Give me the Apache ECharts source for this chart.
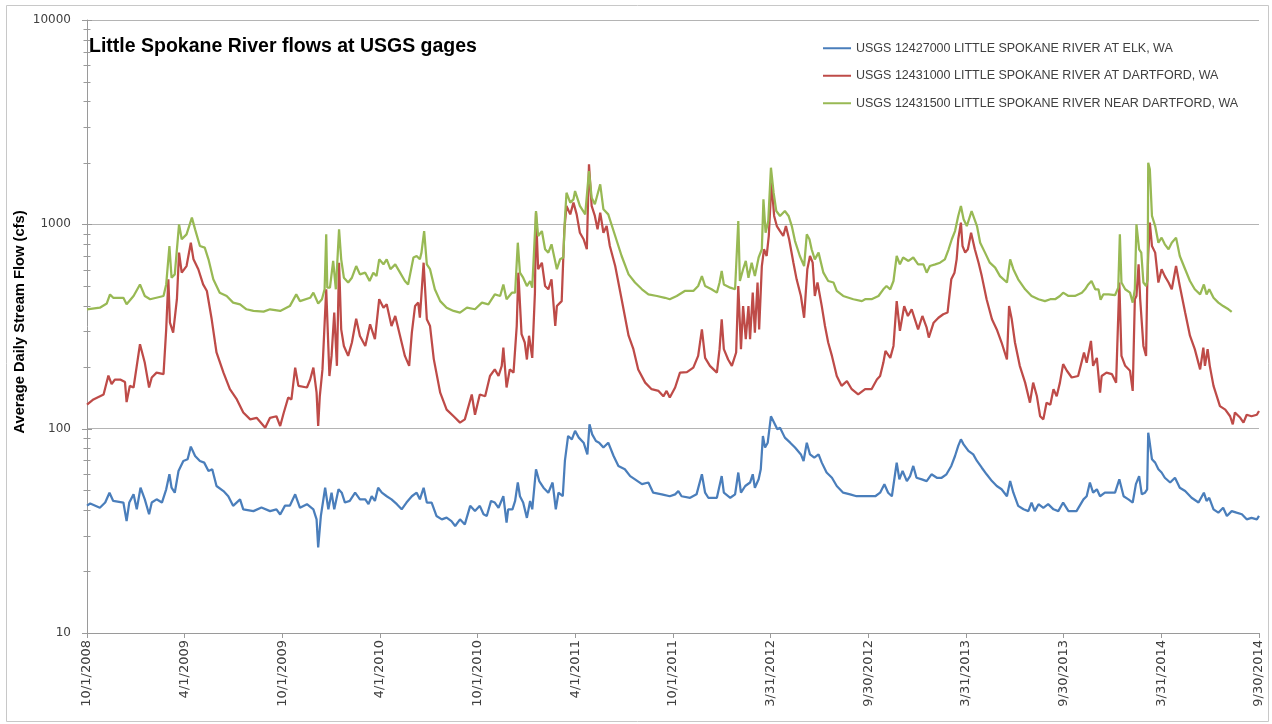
<!DOCTYPE html>
<html>
<head>
<meta charset="utf-8">
<title>Little Spokane River flows at USGS gages</title>
<script src="https://cdn.jsdelivr.net/npm/echarts@6/dist/echarts.min.js"></script>
<style>
  html, body { margin: 0; padding: 0; background: #ffffff; }
  #chart { width: 1272px; height: 724px; }
</style>
</head>
<body>
<div id="chart"></div>
<script>
// Gage names, in legend order
const seriesNames = [
  'USGS 12427000 LITTLE SPOKANE RIVER AT ELK, WA',
  'USGS 12431000 LITTLE SPOKANE RIVER AT DARTFORD, WA',
  'USGS 12431500 LITTLE SPOKANE RIVER NEAR DARTFORD, WA'
];
const yAxisTitle = 'Average Daily Stream Flow (cfs)';

// Date axis: ticks every half year (182.5 days) from 10/1/2008
const dateTicks = [
  '10/1/2008', '4/1/2009', '10/1/2009', '4/1/2010', '10/1/2010', '4/1/2011',
  '10/1/2011', '3/31/2012', '9/30/2012', '3/31/2013', '9/30/2013', '3/31/2014', '9/30/2014'
];
const tickSpacingDays = 182.5;
const lastDay = 2190;

// [day of record counted from 10/1/2008, average daily flow in cfs]
const elkFlow = [
  [0,42],[6,43],[24,41],[34,43.5],[42,48.6],[49,44.3],[68,43.5],[74,35.3],[79,43.5],[87,47.7],[93,40.3],[100,51.4],[108,45.1],[116,38.1],[121,43.5],[130,45.1],[140,43.5],[148,50.5],[154,59.8],[158,51.4],[164,48.6],[171,62.1],[180,69.5],[188,70.8],[194,81.7],[202,73.5],[211,69.5],[219,68.2],[227,62.1],[234,63.3],[242,52.4],[255,49.5],[264,46.7],[273,41.9],[286,45.1],[292,40.3],[311,39.5],[326,41.1],[342,39.5],[354,40.3],
  [361,38],[370,42],[379,42],[389,47.7],[398,41],[411,42.7],[423,40.3],[429,36],[432,26.2],[437,37.4],[445,51.4],[451,40.3],[457,48.6],[462,40.3],[470,50.5],[476,48.6],[482,43.5],[491,44.3],[501,48.6],[510,45.1],[520,45.1],[526,42.7],[532,46.7],[538,44.3],[544,51.4],[551,48.6],[560,46.7],[569,45.1],[579,42.7],[588,40.3],[597,43.5],[607,46.7],[616,48.6],[622,45.1],[629,51.4],[635,43.5],[644,43.5],[653,37.4],[663,36],[672,36.7],[681,35.3],[688,33.4],[697,36],[706,34],[716,41.9],
  [725,39.5],[734,41.9],[741,38.1],[747,37.4],[755,44.3],[762,43.5],[769,41],[778,46.7],[784,34.7],[787,40.3],[795,40.3],[800,44.3],[805,54.5],[809,46.7],[815,43.5],[822,36.6],[828,44.3],[832,40.3],[839,63.3],[845,55.4],[853,51.4],[862,48.6],[870,54.5],[876,40.3],[881,48.6],[889,46.7],[893,69.5],[899,92.1],[906,88.7],[912,97.5],[919,90.4],[928,85.4],[935,74.8],[939,105],[944,93.8],[951,87],[957,85.4],[965,80.8],[974,85.4],[984,73.5],[993,65.7],[1005,63.3],[1015,58.6],[1024,56.5],[1037,53.5],[1049,54.5],[1058,48.6],[1074,47.7],
  [1089,46.7],[1099,47.7],[1105,49.5],[1111,46.7],[1127,45.9],[1139,47.7],[1149,59.8],[1155,48.6],[1161,45.9],[1177,45.9],[1186,58.6],[1190,48.6],[1202,45.9],[1211,47.7],[1217,61],[1222,48.6],[1230,52.4],[1239,54.5],[1244,59.8],[1248,51.4],[1255,56.5],[1259,63.3],[1263,92.1],[1267,80.8],[1272,85.4],[1278,115],[1284,107],[1290,99.3],[1295,101],[1304,90.4],[1314,85.4],[1323,80.8],[1334,74.8],[1339,69.5],[1345,85.4],[1351,74.8],[1359,72.1],[1367,74.8],[1373,68.2],[1382,61],[1392,57.5],[1401,52.4],[1413,48.6],[1426,47.7],[1438,46.7],
  [1454,46.7],[1473,46.7],[1482,48.6],[1490,53.5],[1497,48.6],[1504,46.7],[1513,68.2],[1518,56.5],[1524,62.1],[1532,55.4],[1538,58.6],[1544,65.7],[1550,57.5],[1560,56.5],[1569,55.4],[1578,59.8],[1588,57.5],[1597,57.5],[1606,59.8],[1615,65.7],[1622,73.5],[1628,82.3],[1633,88.7],[1638,83.8],[1647,77.8],[1656,74.8],[1663,69.5],[1672,64.4],[1681,59.8],[1691,55.4],[1700,52.4],[1709,50.5],[1719,46.7],[1725,55.4],[1731,48.6],[1740,41.9],[1750,40.3],[1759,39.5],[1765,43.5],[1771,39.5],[1778,42.7],[1787,41],[1796,42.7],[1806,40.3],[1815,39.5],
  [1818,40.3],[1824,43.5],[1834,39.5],[1849,39.5],[1862,45.1],[1868,46.7],[1874,54.5],[1880,48.6],[1887,50.5],[1893,46.7],[1902,48.6],[1921,48.6],[1929,56.5],[1937,46.7],[1946,45.1],[1954,43.5],[1960,53.5],[1966,58.6],[1971,47.7],[1977,48.6],[1981,50.5],[1983,95.5],[1985,88.7],[1990,70.8],[1996,68.2],[2002,63.3],[2008,61],[2014,57.5],[2024,54.5],[2033,57.5],[2042,51.4],[2052,49.5],[2064,45.9],[2077,43.5],[2087,48.6],[2092,44.3],[2097,45.9],[2105,40.3],[2114,38.8],[2123,41],[2130,37.4],[2139,39.5],[2148,38.8],[2158,38.1],[2167,36],[2176,36.6],[2186,36],[2190,37.4]
];

const dartfordFlow = [
  [0,131],[12,139],[31,147],[40,182],[46,165],[52,174],[62,174],[71,169],[74,135],[80,162],[87,159],[93,203],[99,259],[108,210],[116,159],[121,178],[130,188],[143,185],[148,306],[152,538],[155,330],[161,295],[168,430],[172,727],[177,580],[186,625],[194,813],[199,674],[208,603],[217,508],[224,472],[233,343],[242,236],[255,188],[267,156],[280,139],[292,120],[305,111],[317,113],[333,101],[342,113],[354,115],
  [361,103],[367,118],[376,142],[382,139],[389,199],[395,162],[411,159],[417,174],[423,199],[429,150],[432,103],[435,144],[440,195],[447,481],[453,181],[457,227],[462,370],[467,203],[471,649],[475,306],[480,254],[488,227],[495,264],[503,345],[510,284],[520,254],[529,324],[538,274],[546,430],[554,391],[560,406],[569,318],[576,356],[585,284],[594,227],[602,203],[607,295],[613,398],[619,414],[622,349],[629,649],[635,343],[641,318],[648,219],[660,150],[672,124],[685,115],[697,107],[706,111],[719,147],
  [725,117],[734,147],[744,144],[753,181],[762,195],[769,181],[775,203],[778,249],[784,159],[790,195],[797,188],[803,318],[806,580],[812,290],[818,264],[822,218],[826,285],[832,222],[837,463],[839,1140],[843,603],[850,649],[856,499],[862,481],[868,538],[875,318],[878,398],[887,421],[892,945],[896,1230],[903,1119],[909,1277],[915,1119],[921,910],[928,845],[934,755],[938,1967],[943,1230],[949,1099],[954,945],[959,1140],[965,910],[971,981],[977,783],[987,625],[999,430],[1012,285],[1021,245],[1030,195],[1043,168],[1055,156],[1068,153],[1077,144],[1083,153],
  [1089,142],[1099,159],[1108,188],[1121,189],[1133,199],[1142,227],[1149,306],[1155,222],[1164,203],[1177,188],[1182,245],[1186,343],[1190,245],[1198,218],[1205,203],[1213,236],[1217,499],[1222,245],[1226,398],[1231,274],[1236,398],[1239,274],[1244,463],[1248,295],[1253,519],[1256,306],[1261,625],[1265,755],[1270,700],[1274,877],[1279,1600],[1284,1099],[1289,981],[1295,927],[1301,877],[1306,981],[1312,845],[1320,649],[1326,538],[1334,446],[1340,349],[1346,603],[1351,700],[1356,649],[1360,446],[1365,519],[1373,398],[1379,318],[1385,264],[1392,227],[1401,181],[1410,162],[1420,171],[1429,156],[1441,147],
  [1454,156],[1466,156],[1476,174],[1482,181],[1488,210],[1492,240],[1501,222],[1507,254],[1513,421],[1519,301],[1527,398],[1534,356],[1541,384],[1547,343],[1553,306],[1561,356],[1569,312],[1573,279],[1582,330],[1591,349],[1600,363],[1608,370],[1615,538],[1621,580],[1625,674],[1628,845],[1633,1019],[1636,783],[1641,727],[1646,755],[1652,910],[1659,755],[1666,649],[1672,558],[1681,430],[1691,343],[1700,306],[1709,264],[1719,218],[1723,398],[1728,343],[1734,264],[1743,203],[1753,168],[1762,134],[1768,168],[1775,144],[1781,115],[1787,111],[1793,134],[1800,131],[1806,156],[1812,144],
  [1818,168],[1824,207],[1831,192],[1840,178],[1852,181],[1863,236],[1868,210],[1876,269],[1880,203],[1887,222],[1893,150],[1896,181],[1905,188],[1915,185],[1923,168],[1929,519],[1933,227],[1940,203],[1949,192],[1954,153],[1958,430],[1961,446],[1965,637],[1968,430],[1974,254],[1979,227],[1981,481],[1983,713],[1986,1019],[1990,783],[1996,727],[2002,519],[2008,603],[2014,558],[2021,519],[2027,481],[2035,625],[2042,499],[2052,370],[2061,285],[2070,245],[2080,195],[2086,249],[2089,203],[2094,245],[2098,203],[2105,162],[2117,129],[2127,124],[2136,115],[2141,105],[2145,120],[2155,113],[2161,107],[2167,117],[2176,115],[2186,117],[2190,122]
];

const nearDartfordFlow = [
  [0,384],[24,391],[37,410],[43,454],[49,437],[68,437],[74,406],[87,446],[99,508],[108,446],[118,430],[143,446],[148,508],[154,783],[158,548],[164,569],[172,1000],[177,845],[186,893],[196,1078],[202,945],[211,783],[220,769],[227,674],[236,538],[248,463],[261,446],[273,414],[286,406],[298,384],[311,377],[330,374],[342,384],
  [361,377],[379,398],[391,454],[398,421],[417,437],[423,463],[432,410],[439,430],[444,481],[447,893],[449,490],[454,490],[460,662],[465,481],[471,945],[475,674],[480,548],[488,519],[495,548],[503,625],[510,569],[520,580],[528,528],[535,580],[541,558],[546,674],[554,637],[560,674],[567,603],[576,637],[585,580],[594,528],[600,507],[610,688],[616,700],[622,674],[625,727],[630,927],[635,637],[641,603],[650,481],[660,421],[672,391],[685,377],[697,370],[710,391],
  [725,384],[738,414],[750,406],[762,454],[772,446],[778,508],[784,430],[794,463],[800,463],[805,813],[809,580],[815,548],[822,499],[828,528],[832,490],[839,1162],[843,877],[850,927],[856,755],[862,727],[868,798],[878,603],[884,674],[890,688],[893,1058],[896,1428],[903,1277],[909,1325],[912,1455],[921,1230],[931,1119],[938,1824],[943,1351],[949,1253],[959,1570],[965,1184],[974,1119],[987,877],[999,700],[1012,569],[1024,519],[1037,481],[1049,454],[1065,446],[1080,437],
  [1089,430],[1102,446],[1117,472],[1133,472],[1142,499],[1149,558],[1155,499],[1167,481],[1177,463],[1182,519],[1186,591],[1190,508],[1202,490],[1211,481],[1217,1038],[1220,528],[1226,603],[1231,662],[1236,548],[1242,649],[1248,558],[1255,688],[1261,755],[1264,1325],[1268,910],[1273,1038],[1278,1893],[1283,1428],[1288,1162],[1295,1099],[1304,1162],[1311,1099],[1317,981],[1323,828],[1332,700],[1340,625],[1345,893],[1350,845],[1354,755],[1360,674],[1367,727],[1376,580],[1385,528],[1395,519],[1401,472],[1413,446],[1432,430],[1448,421],
  [1454,430],[1466,430],[1479,446],[1488,481],[1494,499],[1501,481],[1507,528],[1513,700],[1519,637],[1525,688],[1535,662],[1544,688],[1553,637],[1563,637],[1569,580],[1575,625],[1585,637],[1594,649],[1603,674],[1610,755],[1616,845],[1622,927],[1628,1099],[1633,1230],[1638,1058],[1644,981],[1653,1162],[1663,981],[1669,813],[1678,727],[1687,649],[1697,614],[1706,558],[1719,519],[1725,674],[1731,603],[1740,538],[1753,481],[1765,446],[1778,430],[1790,421],[1800,430],[1809,430],
  [1818,446],[1824,463],[1834,446],[1846,446],[1859,463],[1865,481],[1871,508],[1877,528],[1884,481],[1890,481],[1894,427],[1899,454],[1909,454],[1921,450],[1927,490],[1930,893],[1933,519],[1940,481],[1949,463],[1954,414],[1958,481],[1961,1000],[1966,755],[1970,727],[1974,519],[1979,499],[1982,538],[1983,2004],[1986,1858],[1990,1099],[1996,981],[2002,813],[2008,861],[2014,798],[2021,755],[2027,813],[2035,861],[2042,700],[2052,603],[2061,528],[2070,481],[2080,454],[2087,508],[2092,454],[2097,481],[2105,437],[2114,414],[2123,398],[2133,384],[2139,373]
];

const lineColors = ['#4A7EBB', '#BE4B48', '#98B954'];
const axisGray = '#9a9a9a';
const labelColor = '#404040';

// Cross-style tick marks on the log axis: long at each decade, short at 2..9
const yTickMarks = [];
for (let e = 1; e <= 3; e++) {
  for (let m = 1; m <= 9; m++) {
    yTickMarks.push([0, m * Math.pow(10, e), m === 1 ? 5 : 3.5]);
  }
}
yTickMarks.push([0, 10000, 5]);

const chart = echarts.init(document.getElementById('chart'), null, { renderer: 'canvas' });

function flowLine(name, data, color) {
  return {
    name: name,
    type: 'line',
    data: data,
    showSymbol: false,
    symbol: 'none',
    lineStyle: { width: 2.25, color: color },
    itemStyle: { color: color },
    animation: false,
    z: 3
  };
}

chart.setOption({
  backgroundColor: '#ffffff',
  animation: false,
  title: {
    text: 'Little Spokane River flows at USGS gages',
    left: 89,
    top: 37,
    padding: 0,
    textStyle: { fontFamily: 'Liberation Sans', fontSize: 19.5, fontWeight: 'bold', color: '#000000' }
  },
  legend: {
    data: seriesNames,
    orient: 'vertical',
    left: 823,
    top: 41,
    padding: 0,
    icon: 'rect',
    itemWidth: 28,
    itemHeight: 2,
    itemGap: 13,
    selectedMode: false,
    textStyle: { fontFamily: 'Liberation Sans', fontSize: 12.5, color: labelColor, lineHeight: 14.5 }
  },
  grid: { left: 87, right: 13, top: 20, bottom: 91, containLabel: false },
  xAxis: {
    type: 'value',
    min: 0,
    max: lastDay,
    interval: tickSpacingDays,
    axisLine: { show: true, lineStyle: { color: axisGray, width: 1 } },
    axisTick: { show: true, length: 5, lineStyle: { color: axisGray } },
    splitLine: { show: false },
    axisLabel: {
      rotate: 90,
      margin: 7,
      fontFamily: 'DejaVu Sans',
      fontSize: 13,
      color: labelColor,
      showMinLabel: true,
      showMaxLabel: true,
      formatter: function (v) {
        return dateTicks[Math.round(v / tickSpacingDays)] || '';
      }
    }
  },
  yAxis: {
    type: 'log',
    logBase: 10,
    min: 10,
    max: 10000,
    axisLine: { show: true, lineStyle: { color: axisGray, width: 1 } },
    axisTick: { show: false },
    splitLine: { show: true, lineStyle: { color: '#b4b4b4', width: 1 } },
    axisLabel: {
      margin: 16,
      fontFamily: 'DejaVu Sans',
      fontSize: 12,
      color: labelColor,
      formatter: function (v) { return String(Math.round(v)); }
    }
  },
  graphic: [
    {
      type: 'rect',
      shape: { x: 6.5, y: 5.5, width: 1262, height: 716 },
      style: { fill: 'none', stroke: '#c8c8c8', lineWidth: 1 },
      silent: true,
      z: -1
    },
    {
      // vertical axis title, reading bottom to top
      type: 'text',
      x: 20,
      y: 322,
      rotation: Math.PI / 2,
      silent: true,
      style: {
        text: yAxisTitle,
        font: 'bold 14.7px "Liberation Sans"',
        fill: '#000000',
        align: 'center',
        verticalAlign: 'middle',
        textAlign: 'center',
        textVerticalAlign: 'middle'
      }
    }
  ],
  series: [
    flowLine(seriesNames[0], elkFlow, lineColors[0]),
    flowLine(seriesNames[1], dartfordFlow, lineColors[1]),
    flowLine(seriesNames[2], nearDartfordFlow, lineColors[2]),
    {
      type: 'custom',
      coordinateSystem: 'cartesian2d',
      data: yTickMarks,
      silent: true,
      animation: false,
      clip: false,
      z: 4,
      renderItem: function (params, api) {
        const p = api.coord([api.value(0), api.value(1)]);
        const half = api.value(2);
        return {
          type: 'line',
          shape: { x1: p[0] - half, y1: Math.round(p[1]) + 0.5, x2: p[0] + half, y2: Math.round(p[1]) + 0.5 },
          style: { stroke: axisGray, lineWidth: 1 }
        };
      }
    }
  ]
});
</script>
</body>
</html>
